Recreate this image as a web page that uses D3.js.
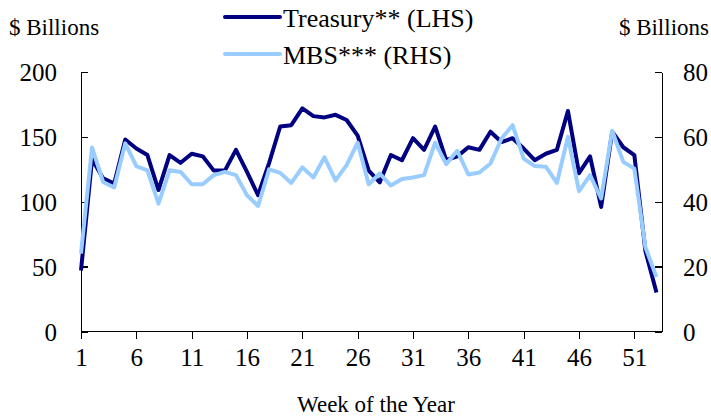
<!DOCTYPE html>
<html>

<head>
  <meta charset="utf-8">
  <title>Weekly Issuance</title>
  <style>
    body {
      margin: 0;
      background: #fff;
    }

    svg text {
      font-family: "Liberation Serif", "Times New Roman", Times, "DejaVu Serif", serif;
      fill: #000;
    }

    .axis path,
    .axis line {
      stroke: #000;
      stroke-width: 1.3px;
      shape-rendering: crispEdges;
    }

    .axis text {
      font-size: 25px;
    }

    .series {
      fill: none;
      stroke-width: 4px;
      stroke-linejoin: round;
    }
  </style>
  <script src="https://d3js.org/d3.v7.min.js"></script>
</head>

<body>
  <div id="chart"></div>

  <script>
    // week numbers and the two series
    var weeks = d3.range(1, 54);

    var treasury = [47, 133, 118, 114, 148, 141, 136, 109, 136, 130,
      137, 135, 124, 124, 140, 123, 105, 130, 158, 159,
      172, 166, 165, 167, 163, 151, 124, 115, 136, 132,
      149, 140, 158, 132, 135, 142, 140, 154, 146, 149,
      141, 132, 137, 140, 170, 122, 135, 96, 154, 142,
      136, 62, 30];

    var mbs = [24, 56.7, 46.1, 44.4, 58, 51, 49.7, 39.4, 49.7, 49.2,
      45.4, 45.4, 48.2, 49.2, 48.2, 42, 38.7, 50, 48.9, 45.8,
      50.6, 47.5, 53.7, 46.6, 51.3, 58.2, 45.4, 48.7, 45, 47,
      47.5, 48.2, 58.2, 51.6, 55.7, 48.4, 49, 51.8, 59.5, 63.6,
      53.3, 51, 50.8, 45.8, 60, 43.3, 48.2, 41, 61.9, 52.3,
      50.2, 26, 16.8];

    var xTicks = [1, 6, 11, 16, 21, 26, 31, 36, 41, 46, 51];
    var leftTicks = [0, 50, 100, 150, 200];
    var rightTicks = [0, 20, 40, 60, 80];

    var legendNames = ["Treasury** (LHS)", "MBS*** (RHS)"];
    var colors = ["#000080", "#99ccff"];

    // dimensions
    var width = 711,
      height = 419,
      margin = { top: 72, right: 49, bottom: 87.5, left: 81 };

    var svg = d3.select("#chart").append("svg")
      .attr("width", width)
      .attr("height", height);

    // scales
    var x = d3.scaleLinear()
      .domain([1, 53.5])
      .range([margin.left, width - margin.right]);

    var yLeft = d3.scaleLinear()
      .domain([0, 200])
      .range([height - margin.bottom, margin.top]);

    var yRight = d3.scaleLinear()
      .domain([0, 80])
      .range([height - margin.bottom, margin.top]);

    // axes
    svg.append("g")
      .attr("class", "axis")
      .attr("transform", "translate(0," + (height - margin.bottom) + ")")
      .call(d3.axisBottom(x).tickValues(xTicks).tickSize(7).tickSizeOuter(0).tickPadding(10))
      .call(function (g) { g.select(".domain").attr("d", "M" + margin.left + ",0H" + (width - margin.right)); });

    svg.append("g")
      .attr("class", "axis")
      .attr("transform", "translate(" + margin.left + ",0)")
      .call(d3.axisLeft(yLeft).tickValues(leftTicks).tickSize(-7).tickSizeOuter(0).tickPadding(24))
      .call(function (g) { g.selectAll("text").attr("dy", "0.34em"); });

    svg.append("g")
      .attr("class", "axis")
      .attr("transform", "translate(" + (width - margin.right) + ",0)")
      .call(d3.axisRight(yRight).tickValues(rightTicks).tickSize(-7).tickSizeOuter(0).tickPadding(21))
      .call(function (g) { g.selectAll("text").attr("dy", "0.34em"); });

    // remove d3's default font attributes so the css font applies
    svg.selectAll(".axis").attr("font-family", null).attr("font-size", null);

    // lines
    var lineLeft = d3.line()
      .x(function (d, i) { return x(weeks[i]); })
      .y(function (d) { return yLeft(d); });

    var lineRight = d3.line()
      .x(function (d, i) { return x(weeks[i]); })
      .y(function (d) { return yRight(d); });

    svg.append("path")
      .datum(treasury)
      .attr("class", "series")
      .attr("stroke", colors[0])
      .attr("d", lineLeft);

    svg.append("path")
      .datum(mbs)
      .attr("class", "series")
      .attr("stroke", colors[1])
      .attr("d", lineRight);

    // axis titles
    svg.append("text")
      .attr("x", 9)
      .attr("y", 35)
      .style("font-size", "23px")
      .text("$ Billions");

    svg.append("text")
      .attr("x", 709)
      .attr("y", 35)
      .attr("text-anchor", "end")
      .style("font-size", "23px")
      .text("$ Billions");

    svg.append("text")
      .attr("x", 376)
      .attr("y", 412)
      .attr("text-anchor", "middle")
      .style("font-size", "23px")
      .text("Week of the Year");

    // legend
    var legend = svg.append("g").selectAll("g")
      .data(legendNames)
      .enter().append("g")
      .attr("transform", function (d, i) { return "translate(225," + (17 + i * 37) + ")"; });

    legend.append("line")
      .attr("x1", 0)
      .attr("x2", 55)
      .attr("stroke", function (d, i) { return colors[i]; })
      .attr("stroke-width", 4)
      .attr("stroke-linecap", "round");

    legend.append("text")
      .attr("x", 58)
      .attr("y", 9.5)
      .style("font-size", "26px")
      .text(function (d) { return d; });
  </script>
</body>

</html>
